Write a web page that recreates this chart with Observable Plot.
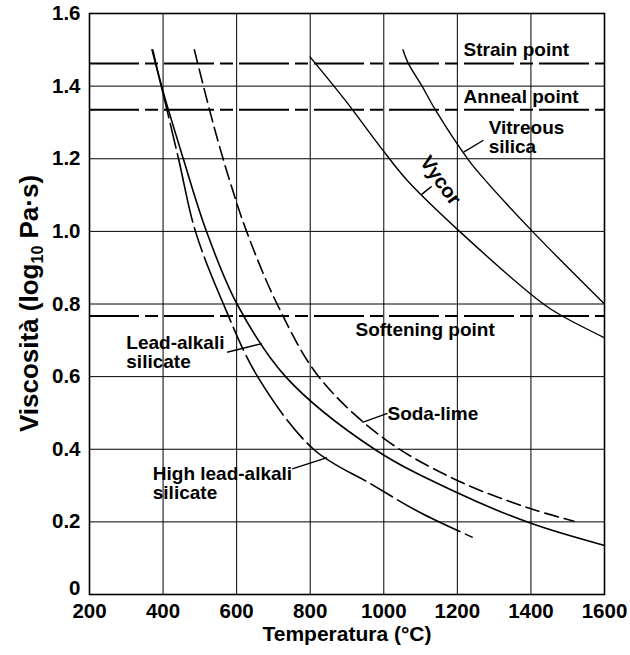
<!DOCTYPE html>
<html><head><meta charset="utf-8">
<script src="https://cdn.jsdelivr.net/npm/d3@7"></script>
<script src="https://cdn.jsdelivr.net/npm/@observablehq/plot@0.6"></script>
<style>
body{margin:0;background:#fff;}
svg{font-family:"Liberation Sans",Arial,Helvetica,sans-serif;}
</style>
</head><body><div id="chart"></div>
<script>
// ---- tick values ----
const xTicks = [200, 400, 600, 800, 1000, 1200, 1400, 1600];
const yTicks = [0, 0.2, 0.4, 0.6, 0.8, 1.0, 1.2, 1.4, 1.6];

// ---- reference viscosity levels ----
const refNames  = ["Strain point", "Anneal point", "Softening point"];
const refValues = [1.462, 1.335, 0.767];

// ---- curves (temperature °C, log10 viscosity) ----
const highLeadT = [370, 395, 442, 488, 564, 657, 809, 964, 1100, 1240];
const highLeadV = [1.50, 1.40, 1.20, 1.0, 0.8, 0.6, 0.4, 0.305, 0.225, 0.158];

const leadAlkT = [372, 396, 455, 518, 601, 733, 975, 1200, 1400, 1600];
const leadAlkV = [1.50, 1.40, 1.20, 1.0, 0.8, 0.6, 0.4, 0.28, 0.196, 0.135];

const sodaT = [485, 538, 581, 627, 710, 823, 1000, 1200, 1400, 1517];
const sodaV = [1.50, 1.29, 1.14, 1.0, 0.8, 0.6, 0.43, 0.314, 0.236, 0.202];

const vycorT = [800, 896, 991, 1064, 1206, 1434, 1485, 1600];
const vycorV = [1.48, 1.36, 1.232, 1.14, 1.0, 0.80, 0.767, 0.707];

const silicaT = [1052, 1067, 1104, 1140, 1230, 1281, 1404, 1600];
const silicaV = [1.50, 1.462, 1.40, 1.335, 1.197, 1.135, 1.0, 0.80];

const toRows = (T, V) => T.map((t, i) => ({t, v: V[i]}));
const refs = refNames.map((name, i) => ({name, v: refValues[i]}));

const F = 19;
const chart = Plot.plot({
  width: 630, height: 655,
  marginLeft: 89, marginRight: 26, marginTop: 13, marginBottom: 61,
  style: {fontSize: "20.5px", fontWeight: "bold", color: "#000", background: "#fff",
          fontFamily: '"Liberation Sans", Arial, sans-serif'},
  x: {domain: [200, 1600], ticks: xTicks, tickSize: 0, tickPadding: 9, label: null, tickFormat: d => String(d)},
  y: {domain: [0, 1.6], ticks: yTicks, tickSize: 0, tickPadding: 9, label: null,
      tickFormat: d => d === 0 ? "0" : d.toFixed(1)},
  marks: [
    Plot.ruleX(xTicks, {stroke: "#000", strokeWidth: 1}),
    Plot.ruleY(yTicks, {stroke: "#000", strokeWidth: 1}),
    Plot.ruleY(refs, {y: "v", stroke: "#000", strokeWidth: 2, strokeDasharray: "50,6,13,6"}),
    Plot.line(toRows(leadAlkT, leadAlkV), {x: "t", y: "v", stroke: "#000", strokeWidth: 1.6, curve: "catmull-rom"}),
    Plot.line(toRows(highLeadT, highLeadV), {x: "t", y: "v", stroke: "#000", strokeWidth: 1.6, curve: "catmull-rom", strokeDasharray: "70,6,25,6"}),
    Plot.line(toRows(sodaT, sodaV), {x: "t", y: "v", stroke: "#000", strokeWidth: 1.6, curve: "catmull-rom", strokeDasharray: "14,6"}),
    Plot.line(toRows(vycorT, vycorV), {x: "t", y: "v", stroke: "#000", strokeWidth: 1.4, curve: "catmull-rom"}),
    Plot.line(toRows(silicaT, silicaV), {x: "t", y: "v", stroke: "#000", strokeWidth: 1.4, curve: "catmull-rom"}),
    // leader lines
    Plot.link([
      {x1: 1217, y1: 1.218, x2: 1271, y2: 1.251},
      {x1: 1103, y1: 1.102, x2: 1130, y2: 1.124},
      {x1: 574, y1: 0.667, x2: 669, y2: 0.691},
      {x1: 942, y1: 0.474, x2: 1010, y2: 0.499},
      {x1: 751, y1: 0.346, x2: 846, y2: 0.377}
    ], {x1: "x1", y1: "y1", x2: "x2", y2: "y2", stroke: "#000", strokeWidth: 1.4}),
    // labels
    Plot.text([
      {x: 1217, y: 1.50, s: "Strain point"},
      {x: 1217, y: 1.369, s: "Anneal point"},
      {x: 1285, y: 1.259, s: "Vitreous\nsilica"},
      {x: 923, y: 0.730, s: "Softening point"},
      {x: 300, y: 0.667, s: "Lead-alkali\nsilicate"},
      {x: 1010, y: 0.496, s: "Soda-lime"},
      {x: 372, y: 0.306, s: "High lead-alkali\nsilicate"}
    ], {x: "x", y: "y", text: "s", textAnchor: "start", fontSize: F, fontWeight: "bold", fill: "#000", lineHeight: 1.0}),
    Plot.text([{x: 1154, y: 1.14, s: "Vycor"}], {x: "x", y: "y", text: "s", rotate: 54, fontSize: F + 1, fontWeight: "bold", fill: "#000"}),
    Plot.frame({stroke: "#000", strokeWidth: 1.6})
  ]
});

const svg = d3.select(chart);
// lift the "0" y tick label a little, as in the reference
svg.selectAll("text").filter(function () {
  return this.textContent === "0" && this.closest('[aria-label^="y-axis"]');
}).attr("dy", "-0.3em");

svg.append("text")
  .attr("x", 347).attr("y", 641)
  .attr("text-anchor", "middle")
  .attr("font-size", 21).attr("font-weight", "bold").attr("fill", "#000")
  .text("Temperatura (°C)");
const yt = svg.append("text")
  .attr("transform", "translate(38,303.5) rotate(-90)")
  .attr("text-anchor", "middle")
  .attr("font-size", 26).attr("font-weight", "bold").attr("fill", "#000");
yt.append("tspan").text("Viscosità (log");
yt.append("tspan").attr("font-size", 16).attr("dy", 5).text("10");
yt.append("tspan").attr("dy", -5).text(" Pa·s)");

document.getElementById("chart").appendChild(chart);
</script>
</body></html>
